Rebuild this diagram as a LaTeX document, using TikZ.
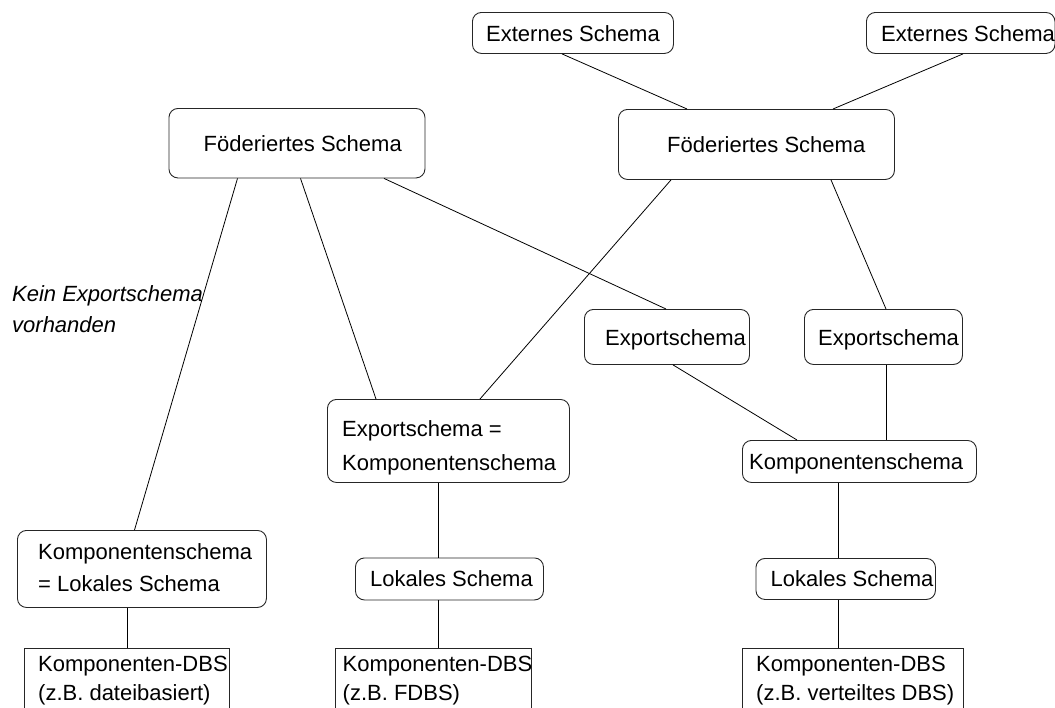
\documentclass[tikz,border=0pt]{standalone}
\usepackage{fontspec}
\setmainfont{Liberation Sans}
\begin{document}
\begin{tikzpicture}[x=1pt,y=-1pt,
  box/.style={draw=black!85, line width=0.9pt, rounded corners=9pt, inner sep=0pt},
  dbs/.style={draw=black!85, line width=0.9pt, inner sep=0pt},
  txt/.style={font=\fontsize{22}{26.4}\selectfont, inner sep=0pt, anchor=base west, align=left},
  link/.style={line width=0.8pt}]
\useasboundingbox (0,0) rectangle (1055,707);
\clip (0,0) rectangle (1055,707);
% box helper: [style]{name}{x1}{y1}{x2}{y2}
\newcommand\schemabox[6][box]{%
  \node[#1, anchor=north west, minimum width={#5pt-#3pt}, minimum height={#6pt-#4pt}] (#2) at (#3,#4) {};}

% schema boxes
\schemabox{e1}{472}{12}{673}{53}
\schemabox{e2}{866}{12}{1054.5}{53}
\schemabox{f1}{168.5}{108}{424.5}{177.5}
\schemabox{f2}{618}{109}{894}{179}
\schemabox{x1}{584}{309}{749}{364}
\schemabox{x2}{804}{309}{962}{364}
\schemabox{ek}{327}{399}{569}{482}
\schemabox{kr}{742}{440}{976}{482}
\schemabox{kl}{17}{530}{266}{607}
\schemabox{lm}{355}{557.5}{543}{599.5}
\schemabox{lr}{755.5}{558}{935}{599}
% database systems (cut at the lower edge)
\schemabox[dbs]{dl}{23.5}{648}{229}{720}
\schemabox[dbs]{dm}{334.5}{648}{531}{720}
\schemabox[dbs]{dr}{742}{648}{963}{720}

% texts (multi-line texts are placed by the baseline of their last line)
\node[txt] (e1t) at (486,41) {Externes Schema};
\node[txt] (e2t) at (881,41) {Externes Schema};
\node[txt] (f1t) at (203.5,151) {Föderiertes Schema};
\node[txt] (f2t) at (667,152) {Föderiertes Schema};
\node[txt] (x1t) at (605,345) {Exportschema};
\node[txt] (x2t) at (818,345) {Exportschema};
\node[txt] (ekt) at (342,470) {Exportschema =\\[7.6pt]Komponentenschema};
\node[txt] (krt) at (749,469) {Komponentenschema};
\node[txt] (klt) at (38,591) {Komponentenschema\\[5.6pt]= Lokales Schema};
\node[txt] (lmt) at (370,586) {Lokales Schema};
\node[txt] (lrt) at (770.5,586) {Lokales Schema};
\node[txt] (dlt) at (38,700) {Komponenten-DBS\\[2.6pt](z.B. dateibasiert)};
\node[txt] (dmt) at (342.5,700) {Komponenten-DBS\\[2.6pt](z.B. FDBS)};
\node[txt] (drt) at (756,700) {Komponenten-DBS\\[2.6pt] (z.B. verteiltes DBS)};
\node[txt, font=\fontsize{22}{26.4}\selectfont\itshape] (kein) at (12,332) {Kein Exportschema\\[4.6pt]vorhanden};

% connectors
\draw[link] (562,0 |- e1.south) -- (687,0 |- f2.north);
\draw[link] (963,0 |- e2.south) -- (833,0 |- f2.north);
\draw[link] (237.5,0 |- f1.south) -- (134.5,0 |- kl.north);
\draw[link] (300.5,0 |- f1.south) -- (376,0 |- ek.north);
\draw[link] (384,0 |- f1.south) -- (666,0 |- x1.north);
\draw[link] (671,0 |- f2.south) -- (480,0 |- ek.north);
\draw[link] (831,0 |- f2.south) -- (886,0 |- x2.north);
\draw[link] (673,0 |- x1.south) -- (797,0 |- kr.north);
\draw[link] (886.5,0 |- x2.south) -- (886.5,0 |- kr.north);
\draw[link] (438,0 |- ek.south) -- (438,0 |- lm.north);
\draw[link] (438,0 |- lm.south) -- (438,0 |- dm.north);
\draw[link] (838,0 |- kr.south) -- (838,0 |- lr.north);
\draw[link] (838,0 |- lr.south) -- (838,0 |- dr.north);
\draw[link] (127.5,0 |- kl.south) -- (127.5,0 |- dl.north);
\end{tikzpicture}
\end{document}
